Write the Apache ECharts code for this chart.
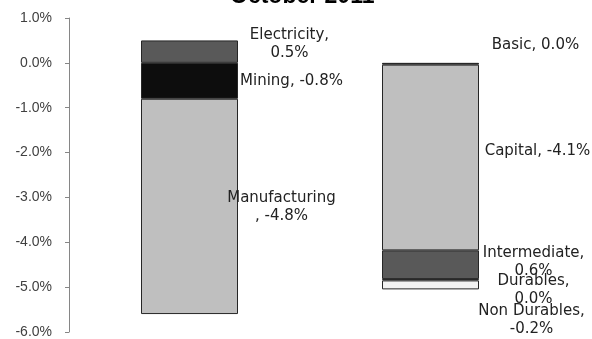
<!DOCTYPE html>
<html>
<head>
<meta charset="utf-8">
<title>October 2011</title>
<script src="https://cdn.jsdelivr.net/npm/echarts@6/dist/echarts.min.js"></script>
<style>
  html, body { margin: 0; padding: 0; background: #fff; }
  #chart { width: 592px; height: 339px; }
</style>
</head>
<body>
<div id="chart"></div>
<script>
// Two stacked columns: contributions by industry and by market group (percentage points)
const categories = ['Industry', 'Market group'];

const industryNames = ['Electricity', 'Mining', 'Manufacturing'];
const industryValues = [0.5, -0.8, -4.8];

const marketNames = ['Basic', 'Capital', 'Intermediate', 'Durables', 'Non Durables'];
const marketValues = [-0.04, -4.14, -0.64, -0.03, -0.2];

const yTicks = [1, 0, -1, -2, -3, -4, -5, -6];

// Segment fills, in series order
const fills = {
  'Electricity': '#595959',
  'Mining': '#0d0d0d',
  'Manufacturing': '#bfbfbf',
  'Basic': '#0d0d0d',
  'Capital': '#bfbfbf',
  'Intermediate': '#595959',
  'Durables': '#7f7f7f',
  'Non Durables': '#f2f2f2'
};

// Label text layout per segment: line break style and offset from the segment centre
const labelLayout = {
  'Electricity':   { text: 'wrap',  offset: [100, -8] },
  'Mining':        { text: 'line',  offset: [102, 0] },
  'Manufacturing': { text: 'split', offset: [92, 1] },
  'Basic':         { text: 'line',  offset: [105, -19] },
  'Capital':       { text: 'line',  offset: [107, -6] },
  'Intermediate':  { text: 'wrap',  offset: [103, -3], unsigned: true },
  'Durables':      { text: 'wrap',  offset: [103, 10] },
  'Non Durables':  { text: 'wrap',  offset: [101, 35] }
};

function pct(v, unsigned) {
  let r = Math.round(v * 10) / 10;
  if (unsigned) r = Math.abs(r);
  if (r === 0) return '0.0%';
  return r.toFixed(1) + '%';
}

function labelText(name, v) {
  const lay = labelLayout[name];
  const p = pct(v, lay.unsigned);
  if (lay.text === 'line') return name + ', ' + p;
  if (lay.text === 'split') return name + '\n, ' + p;
  return name + ',\n' + p;
}

function makeSeries(name, value, catIndex) {
  const data = categories.map((c, i) => (i === catIndex ? value : '-'));
  return {
    name: name,
    type: 'bar',
    stack: 'total',
    barWidth: 97,
    data: data,
    itemStyle: { color: fills[name], borderColor: '#262626', borderWidth: 1 },
    label: {
      show: true,
      position: 'inside',
      offset: labelLayout[name].offset,
      align: 'center',
      verticalAlign: 'middle',
      fontFamily: 'DejaVu Sans, sans-serif',
      fontSize: 15,
      lineHeight: 18,
      color: '#222222',
      formatter: (p) => labelText(name, p.value)
    }
  };
}

const series = [];
industryNames.forEach((n, i) => series.push(makeSeries(n, industryValues[i], 0)));
marketNames.forEach((n, i) => series.push(makeSeries(n, marketValues[i], 1)));

const chart = echarts.init(document.getElementById('chart'), null, { renderer: 'canvas' });
chart.setOption({
  animation: false,
  backgroundColor: '#ffffff',
  title: {
    text: 'October 2011',
    left: 225,
    top: -20,
    textStyle: {
      fontFamily: 'Liberation Sans, Arial, sans-serif',
      fontSize: 23,
      fontWeight: 'bold',
      color: '#000000'
    }
  },
  grid: { left: 69, right: 41, top: 18, bottom: 6, containLabel: false },
  xAxis: {
    type: 'category',
    data: categories,
    show: false
  },
  yAxis: {
    type: 'value',
    min: yTicks[yTicks.length - 1],
    max: yTicks[0],
    interval: 1,
    axisLine: { show: true, lineStyle: { color: '#868686', width: 1 } },
    axisTick: { show: true, inside: false, length: 4, lineStyle: { color: '#868686' } },
    splitLine: { show: false },
    axisLabel: {
      margin: 17,
      fontFamily: 'Liberation Sans, Arial, sans-serif',
      fontSize: 14,
      color: '#404040',
      formatter: (v) => pct(v)
    }
  },
  series: series
});
</script>
</body>
</html>
